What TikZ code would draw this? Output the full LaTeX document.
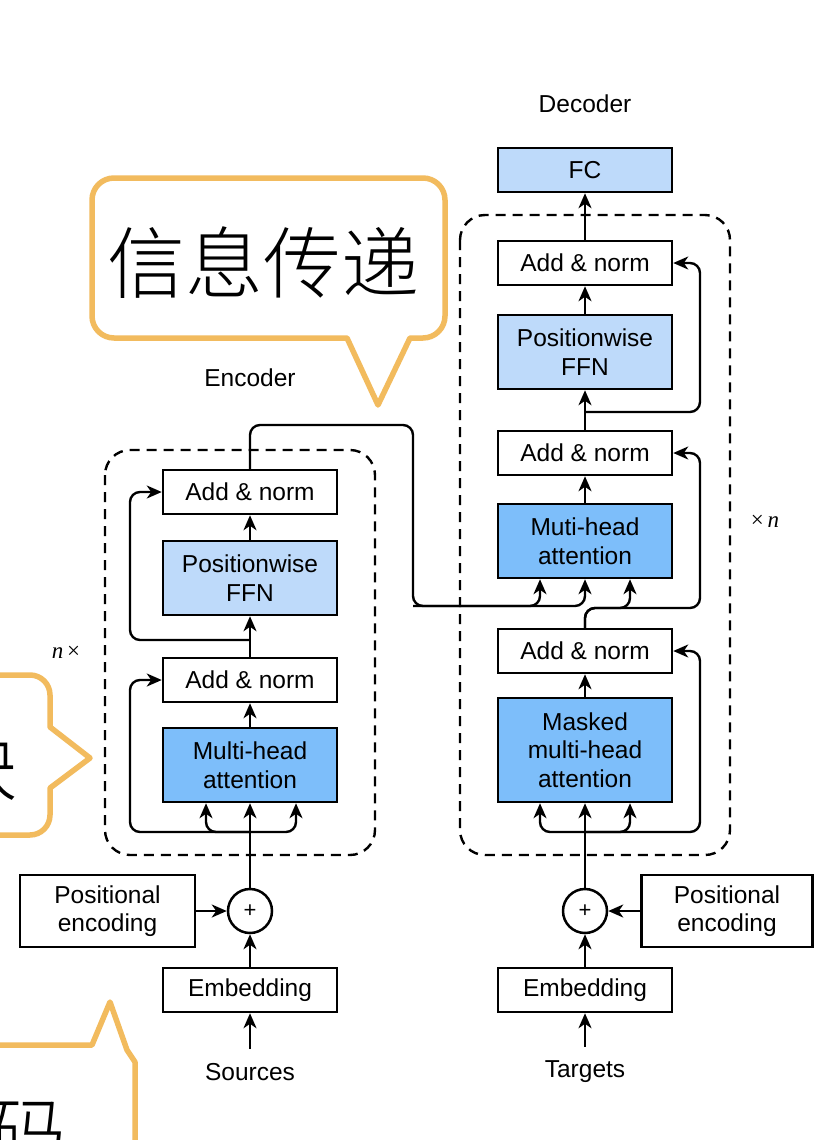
\documentclass[tikz,border=0pt]{standalone}
\usepackage{fontspec}
\setmainfont{Liberation Sans}
\newfontfamily\cjk{Noto Sans CJK SC}[UprightFont=* Light]
\newfontfamily\serif{Liberation Serif}
\usetikzlibrary{arrows.meta,calc}
\definecolor{attn}{RGB}{125,190,250}
\definecolor{ffn}{RGB}{190,218,250}
\definecolor{callout}{RGB}{242,187,94}
\begin{document}
\begin{tikzpicture}[x=1pt,y=-1pt,
  box/.style={draw, line width=2.5pt, minimum width=174pt, align=center,
    font=\fontsize{24.5}{28.5}\selectfont, inner sep=0pt},
  h1/.style={box, minimum height=44pt},
  h2/.style={box, minimum height=74pt},
  h3/.style={box, minimum height=104pt},
  circ/.style={draw, circle, line width=2.5pt, minimum size=44pt, inner sep=0pt,
    font=\fontsize{22}{24}\selectfont},
  lbl/.style={font=\fontsize{24.5}{28}\selectfont, inner sep=0pt},
  arr/.style={line width=2.4pt, -{Stealth[length=15pt,width=13pt,inset=4.5pt]}},
  rc/.style={rounded corners=10pt},
  dbox/.style={draw, line width=2.4pt, dash pattern=on 10pt off 7pt, rounded corners=25pt},
  callout/.style={draw=callout, line width=5.5pt, line join=round, fill=white},
  big/.style={font=\cjk\fontsize{78}{80}\selectfont, inner sep=0pt},
  mlab/.style={font=\serif\fontsize{23}{25}\selectfont, inner sep=0pt}
]
\useasboundingbox (0,0) rectangle (838,1140);
\fill[white] (0,0) rectangle (838,1140);
\clip (0,0) rectangle (838,1140);

% dashed frames
\draw[dbox] (105,450) rectangle (375,855);
\draw[dbox] (460,215) rectangle (730,855);

% encoder
\node[lbl] (enc) at (250,378) {Encoder};
\node[h1] (ean2) at (250,492) {Add \& norm};
\node[h2,fill=ffn] (effn) at (250,578) {Positionwise\\FFN};
\node[h1] (ean1) at (250,680) {Add \& norm};
\node[h2,fill=attn] (ema) at (250,765) {Multi-head\\attention};
\node[circ] (eplus) at (250,911) {+};
\node[box, minimum width=175pt, minimum height=72pt] (epos) at (107.5,911) {Positional\\encoding};
\node[h1] (eemb) at (250,990) {Embedding};
\node[lbl] (src) at (250,1072) {Sources};
\node[mlab] (nx) at (66,652) {\itshape n\upshape\,×};

% decoder
\node[lbl] (dec) at (585,104) {Decoder};
\node[h1,fill=ffn] (fc) at (585,170) {FC};
\node[h1] (dan3) at (585,263) {Add \& norm};
\node[h2,fill=ffn] (dffn) at (585,352) {Positionwise\\FFN};
\node[h1] (dan2) at (585,453) {Add \& norm};
\node[h2,fill=attn] (dma) at (585,541) {Muti-head\\attention};
\node[h1] (dan1) at (585,651) {Add \& norm};
\node[h3,fill=attn] (dmm) at (585,750) {Masked\\multi-head\\attention};
\node[circ] (dplus) at (585,911) {+};
\node[box, minimum width=171pt, minimum height=72pt] (dpos) at (727,911) {Positional\\encoding};
\node[h1] (demb) at (585,990) {Embedding};
\node[lbl] (tgt) at (585,1072) {Targets};
\node[mlab] (xn) at (765,521) {×\,\itshape n};

% coordinates
\coordinate (eb1) at (250,832);
\coordinate (el1) at (130,680);
\coordinate (eb2) at (250,640);
\coordinate (el2) at (130,492);
\coordinate (eo1) at (413,425);
\coordinate (eo2) at (413,606);
\coordinate (db1) at (585,832);
\coordinate (dr1) at (700,651);
\coordinate (db2) at (585,608);
\coordinate (dr2) at (700,453);
\coordinate (db3) at (585,412);
\coordinate (dr3) at (700,263);

% encoder connectors
\draw[arr] (eemb.north) -- (eplus.south);
\draw[arr] (epos.east) -- (eplus.west);
\draw[arr] ([yshift=14pt]src.north) -- (eemb.south);
\draw[arr] (eplus.north) -- (ema.south);
\draw[arr,rc] (eb1) -| ($(ema.south)+(-44,0)$);
\draw[arr,rc] (eb1) -| ($(ema.south)+(46,0)$);
\draw[arr,rc] (eb1) -| (el1) -- (ean1.west);
\draw[arr] (ema.north) -- (ean1.south);
\draw[arr] (ean1.north) -- (effn.south);
\draw[arr,rc] (eb2) -| (el2) -- (ean2.west);
\draw[arr] (effn.north) -- (ean2.south);
\draw[arr,rc] (ean2.north) |- (eo1) -- (eo2) -| ($(dma.south)+(-45,0)$);
\draw[arr,rc] (eo2) -| (dma.south);

% decoder connectors
\draw[arr] (demb.north) -- (dplus.south);
\draw[arr] (dpos.west) -- (dplus.east);
\draw[arr] ([yshift=14pt]tgt.north) -- (demb.south);
\draw[arr] (dplus.north) -- (dmm.south);
\draw[arr,rc] (db1) -| ($(dmm.south)+(-45,0)$);
\draw[arr,rc] (db1) -| ($(dmm.south)+(45,0)$);
\draw[arr,rc] (db1) -| (dr1) -- (dan1.east);
\draw[arr] (dmm.north) -- (dan1.south);
\draw[arr,rc] (dan1.north) -- (db2) -| ($(dma.south)+(45,0)$);
\draw[arr,rc] (dan1.north) -- (db2) -| (dr2) -- (dan2.east);
\draw[arr] (dma.north) -- (dan2.south);
\draw[arr] (dan2.north) -- (dffn.south);
\draw[arr,rc] (db3) -| (dr3) -- (dan3.east);
\draw[arr] (dffn.north) -- (dan3.south);
\draw[arr] (dan3.north) -- (fc.south);

% callouts
\draw[callout] (250,178) [rounded corners=22pt]-- (445,178) -- (445,338) [sharp corners]-- (410,338) -- (378,405) -- (347,338) [rounded corners=22pt]-- (92,338) -- (92,178) -- cycle;
\node[big] (t1) at (263,263) {信息传递};

\draw[callout] (-60,675) [rounded corners=20pt]-- (50,675) [sharp corners]-- (50,727) -- (90,758) -- (50,788) [rounded corners=20pt]-- (50,835) -- (-60,835);
\node[big] (t2) at (-21,765) {块};

\draw[callout] (-60,1045) -- (92,1045) -- (110,1002) -- (127,1050) -- (135,1062) -- (135,1200) -- (-60,1200);
\node[big] (t3) at (28,1135) {码};
\end{tikzpicture}
\end{document}
